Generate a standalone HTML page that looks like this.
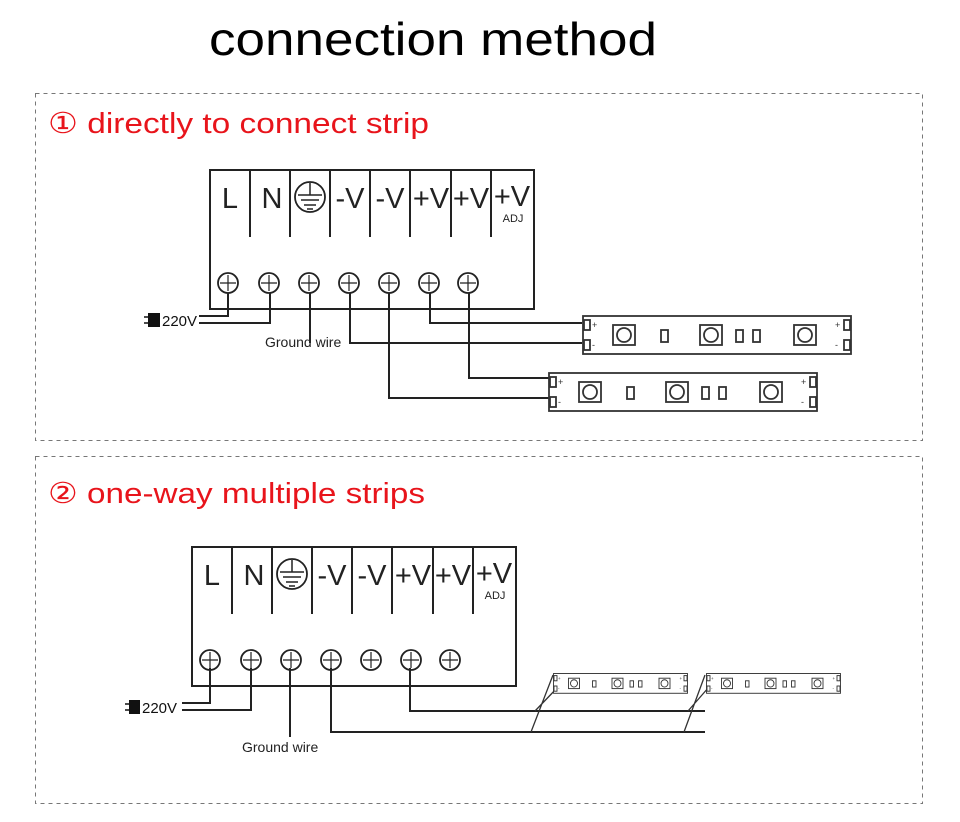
<!DOCTYPE html>
<html><head><meta charset="utf-8"><style>
html,body{margin:0;padding:0;background:#fff}
svg{display:block}
text{font-family:"Liberation Sans",sans-serif}
</style></head><body>
<svg width="960" height="822" viewBox="0 0 960 822" xmlns="http://www.w3.org/2000/svg">
<defs>
<g id="psu" fill="none" stroke="#222" stroke-width="2">
  <rect x="0" y="0" width="324" height="139"/>
  <path d="M40 0V67M80 0V67M120 0V67M160 0V67M200 0V67M241 0V67M281 0V67"/>
  <circle cx="100" cy="27" r="15" stroke-width="1.8"/>
  <path d="M100 13V25M88 25H112M91 30H109M94 35H106M97 39H103" stroke-width="1.5"/>
  <g stroke-width="1.8">
    <circle cx="18" cy="113" r="10"/><circle cx="59" cy="113" r="10"/><circle cx="99" cy="113" r="10"/>
    <circle cx="139" cy="113" r="10"/><circle cx="179" cy="113" r="10"/><circle cx="219" cy="113" r="10"/><circle cx="258" cy="113" r="10"/>
    <path d="M10 113H26M18 105V121M51 113H67M59 105V121M91 113H107M99 105V121M131 113H147M139 105V121M171 113H187M179 105V121M211 113H227M219 105V121M250 113H266M258 105V121" stroke-width="1.2"/>
  </g>
  <g fill="#222" stroke="none" font-size="29" text-anchor="middle">
    <text x="20" y="38">L</text><text x="62" y="38">N</text>
    <text x="140" y="38">-V</text><text x="180" y="38">-V</text>
    <text x="221" y="38">+V</text><text x="261" y="38">+V</text>
    <text x="302" y="36">+V</text>
    <text x="303" y="52" font-size="11">ADJ</text>
  </g>
</g>
<g id="strip" fill="none" stroke="#333" stroke-width="1.8">
  <rect x="1" y="1" width="268" height="38" fill="#fff"/>
  <rect x="2" y="5" width="6" height="10"/><rect x="2" y="25" width="6" height="10"/>
  <rect x="262" y="5" width="6" height="10"/><rect x="262" y="25" width="6" height="10"/>
  <rect x="31" y="10" width="22" height="20"/><circle cx="42" cy="20" r="7"/>
  <rect x="118" y="10" width="22" height="20"/><circle cx="129" cy="20" r="7"/>
  <rect x="212" y="10" width="22" height="20"/><circle cx="223" cy="20" r="7"/>
  <rect x="79" y="15" width="7" height="12"/><rect x="154" y="15" width="7" height="12"/><rect x="171" y="15" width="7" height="12"/>
  <g fill="#333" stroke="none" font-size="9"><text x="10" y="13">+</text><text x="10" y="33">-</text><text x="253" y="13">+</text><text x="253" y="33">-</text></g>
</g>
</defs>

<text x="209" y="55" font-size="46" fill="#000" textLength="448" lengthAdjust="spacingAndGlyphs">connection method</text>

<g fill="none" stroke="#777" stroke-width="1" stroke-dasharray="4,4">
  <rect x="35.5" y="93.5" width="887" height="347"/>
  <rect x="35.5" y="456.5" width="887" height="347"/>
</g>

<text x="48" y="133" font-size="29" fill="#e8141b" textLength="381" lengthAdjust="spacingAndGlyphs">① directly to connect strip</text>
<text x="48" y="503" font-size="29" fill="#e8141b" textLength="377" lengthAdjust="spacingAndGlyphs">② one-way multiple strips</text>

<!-- Section 1 -->
<use href="#psu" x="210" y="170"/>
<g fill="none" stroke="#222" stroke-width="2">
  <path d="M228 293V316H199M270 293V323H199"/>
  <path d="M310 293V343M350 293V343H582M430 293V323H582M469 293V378H550M389 293V398H550"/>
</g>
<rect x="148" y="313" width="12" height="14" fill="#111"/>
<path d="M144 317H148M144 323H148" stroke="#111" stroke-width="1.5"/>
<text x="162" y="326" font-size="15" fill="#111">220V</text>
<text x="265" y="347" font-size="14" fill="#222">Ground wire</text>
<use href="#strip" x="582" y="315"/>
<use href="#strip" x="548" y="372"/>

<!-- Section 2 -->
<use href="#psu" x="192" y="547"/>
<g fill="none" stroke="#222" stroke-width="2">
  <path d="M210 668V703H182M251 668V710H182"/>
  <path d="M290 668V737M331 668V732H705M410 668V711H705"/>
</g>
<g fill="none" stroke="#333" stroke-width="1.3">
  <path d="M553 675L531 732M558 687L535 711M705 675L684 732M709 687L688 711"/>
</g>
<rect x="129" y="700" width="11" height="14" fill="#111"/>
<path d="M125 704H129M125 710H129" stroke="#111" stroke-width="1.5"/>
<text x="142" y="713" font-size="15" fill="#111">220V</text>
<text x="242" y="752" font-size="14" fill="#222">Ground wire</text>
<g transform="translate(553,673) scale(0.5,0.52)"><use href="#strip"/></g>
<g transform="translate(706,673) scale(0.5,0.52)"><use href="#strip"/></g>
</svg>
</body></html>
